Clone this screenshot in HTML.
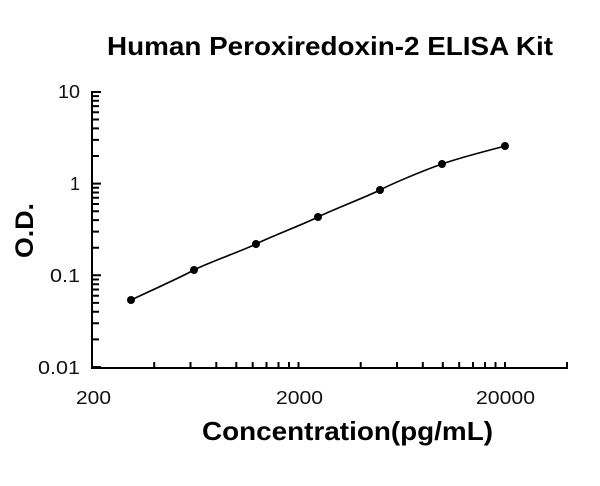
<!DOCTYPE html>
<html><head><style>body{margin:0;background:#fff}svg{display:block}</style></head><body>
<svg width="600" height="486" xmlns="http://www.w3.org/2000/svg" font-family="Liberation Sans, Arial, sans-serif">
<rect width="600" height="486" fill="#fff"/>
<text x="107" y="55" font-size="26" font-weight="bold" textLength="446" lengthAdjust="spacingAndGlyphs">Human Peroxiredoxin-2 ELISA Kit</text>
<text x="202" y="440" font-size="26" font-weight="bold" textLength="291" lengthAdjust="spacingAndGlyphs">Concentration(pg/mL)</text>
<text transform="translate(33,258) rotate(-90)" font-size="25" font-weight="bold" textLength="55" lengthAdjust="spacingAndGlyphs">O.D.</text>
<g font-size="18" text-anchor="end" fill="#111">
<text x="80" y="98" textLength="22" lengthAdjust="spacingAndGlyphs">10</text><text x="80" y="190">1</text><text x="80" y="282" textLength="30" lengthAdjust="spacingAndGlyphs">0.1</text><text x="80" y="374" textLength="42" lengthAdjust="spacingAndGlyphs">0.01</text>
</g>
<g font-size="18" fill="#111">
<text x="76" y="404" textLength="35" lengthAdjust="spacingAndGlyphs">200</text><text x="276" y="404" textLength="47" lengthAdjust="spacingAndGlyphs">2000</text><text x="476" y="404" textLength="59" lengthAdjust="spacingAndGlyphs">20000</text>
</g>
<g stroke="#000" stroke-width="2" fill="none">
<path d="M92,91 V368 H568"/>
<path d="M92,367h9M92,339.4h7M92,323.3h7M92,311.8h7M92,302.9h7M92,295.7h7M92,289.5h7M92,284.2h7M92,279.5h7M92,275.3h9M92,247.7h7M92,231.6h7M92,220.1h7M92,211.2h7M92,204h7M92,197.8h7M92,192.5h7M92,187.8h7M92,183.6h9M92,156h7M92,139.9h7M92,128.4h7M92,119.5h7M92,112.3h7M92,106.1h7M92,100.8h7M92,96.1h7M92,92h9"/>
<path d="M154.2,368v-6M190.5,368v-6M216.3,368v-6M236.3,368v-6M252.7,368v-6M266.5,368v-6M278.5,368v-6M289,368v-6M298.5,368v-6M360.7,368v-6M397,368v-6M422.8,368v-6M442.8,368v-6M459.2,368v-6M473,368v-6M485,368v-6M495.5,368v-6M505,368v-6M567,368v-6"/>
</g>
<path d="M131,300 C141.5,295 183.5,276 194,270 C204.5,264 245.7,249.5 256,244 C266.3,238.5 307.7,222.5 318,217 C328.3,211.5 369.7,195.5 380,190 C390.3,184.5 421.2,171.3 442,164 C462.8,156.7 494.5,149 505,146" fill="none" stroke="#000" stroke-width="1.6"/>
<g fill="#000">
<circle cx="131" cy="300" r="4"/><circle cx="194" cy="270" r="4"/><circle cx="256" cy="244" r="4"/><circle cx="318" cy="217" r="4"/><circle cx="380" cy="190" r="4"/><circle cx="442" cy="164" r="4"/><circle cx="505" cy="146" r="4"/>
</g>
</svg>
</body></html>
